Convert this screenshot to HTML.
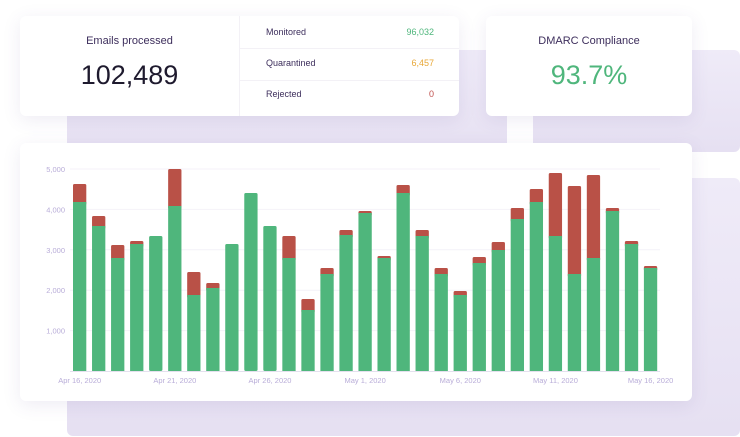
<!DOCTYPE html>
<html><head><meta charset="utf-8"><style>
body{margin:0;width:740px;height:437px;background:#fff;position:relative;overflow:hidden;font-family:"Liberation Sans",sans-serif}
.bg{position:absolute;background:linear-gradient(#efebf8,#e6e0f2);border-radius:6px}
.card{position:absolute;background:#fff;border-radius:6px;box-shadow:0 4px 18px rgba(90,70,150,0.10)}
.t{position:absolute;white-space:nowrap}
</style></head><body>
<div class="bg" style="left:67px;top:50px;width:440px;height:110px;border-radius:0"></div>
<div class="bg" style="left:533px;top:50px;width:207px;height:102px"></div>
<div class="bg" style="left:67px;top:178px;width:673px;height:258px"></div>

<div class="card" style="left:20px;top:16px;width:439px;height:100px">
  <div style="position:absolute;left:219px;top:0;width:1px;height:100px;background:#f3f1f6"></div>
  <div style="position:absolute;left:220px;top:32px;width:219px;height:1px;background:#f3f1f6"></div>
  <div style="position:absolute;left:220px;top:64px;width:219px;height:1px;background:#f3f1f6"></div>
  <div class="t" style="left:0;width:219px;text-align:center;top:19px;font-size:11px;color:#3d2e5c">Emails processed</div>
  <div class="t" style="left:0;width:219px;text-align:center;top:44px;font-size:27px;color:#1e1a2e">102,489</div>
  <div class="t" style="left:246px;top:11px;font-size:9px;color:#3d2e5c;font-weight:bold;font-weight:500">Monitored</div>
  <div class="t" style="right:25px;top:11px;font-size:9px;color:#4fb67c">96,032</div>
  <div class="t" style="left:246px;top:42px;font-size:9px;color:#3d2e5c">Quarantined</div>
  <div class="t" style="right:25px;top:42px;font-size:9px;color:#e8a838">6,457</div>
  <div class="t" style="left:246px;top:73px;font-size:9px;color:#3d2e5c">Rejected</div>
  <div class="t" style="right:25px;top:73px;font-size:9px;color:#c0504d">0</div>
</div>
<div class="card" style="left:486px;top:16px;width:206px;height:100px">
  <div class="t" style="left:0;width:206px;text-align:center;top:19px;font-size:11px;color:#3d2e5c">DMARC Compliance</div>
  <div class="t" style="left:0;width:206px;text-align:center;top:44px;font-size:27px;color:#4fb67c">93.7%</div>
</div>
<div class="card" style="left:20px;top:143px;width:672px;height:258px"></div>
<svg style="position:absolute;left:0;top:0" width="740" height="437" id="c"></svg>
<script>
var s='',g=[[202,184],[226,216],[258,245],[244,241],[236,236],[206,169],[295,272],[288,283],[244,244],[193,193],[226,226],[258,236],[310,299],[274,268],[235,230],[213,211],[258,256],[193,185],[236,230],[274,268],[295,291],[263,257],[250,242],[219,208],[202,189],[236,173],[274,186],[258,175],[211,208],[244,241],[268,266]];
var yl=['5,000','4,000','3,000','2,000','1,000'];
for(var i=0;i<5;i++){var y=169+i*40.4;s+='<line x1="70" x2="660" y1="'+y+'" y2="'+y+'" stroke="#f4f2f8"/><text x="65" y="'+(y+3)+'" text-anchor="end" font-size="7.5" fill="#b8acd8" font-family="Liberation Sans">'+yl[i]+'</text>';}
s+='<line x1="70" x2="660" y1="371.5" y2="371.5" stroke="#e4e0ee"/>';
for(var i=0;i<31;i++){var x=73+i*19.03,a=g[i][0],b=g[i][1];
if(b<a-0.5)s+='<rect x="'+x+'" y="'+b+'" width="13.3" height="'+(a-b+3)+'" rx="1.5" fill="#b95147"/>';
s+='<rect x="'+x+'" y="'+a+'" width="13.3" height="'+(371-a)+'" rx="'+(b<a-0.5?0:1.5)+'" fill="#4fb67c"/>';}
var dl=['Apr 16, 2020','Apr 21, 2020','Apr 26, 2020','May 1, 2020','May 6, 2020','May 11, 2020','May 16, 2020'];
for(var i=0;i<7;i++){s+='<text x="'+(79.7+i*5*19.03)+'" y="383" text-anchor="middle" font-size="7.5" fill="#b8acd8" font-family="Liberation Sans">'+dl[i]+'</text>';}
document.getElementById('c').innerHTML=s;
</script>
</body></html>
